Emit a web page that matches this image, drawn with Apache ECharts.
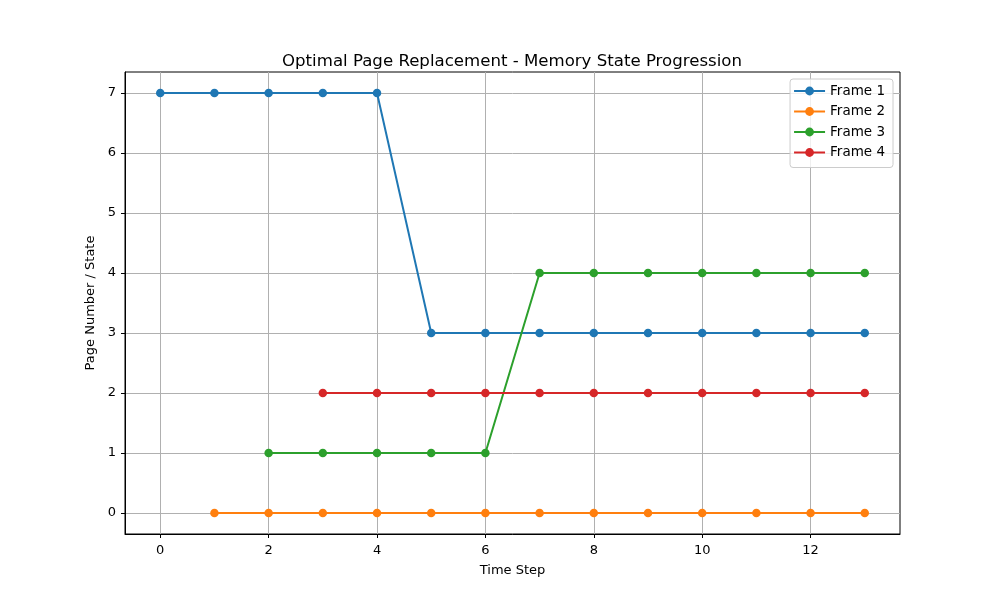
<!DOCTYPE html>
<html>
<head>
<meta charset="utf-8">
<script src="https://cdn.jsdelivr.net/npm/echarts@6/dist/echarts.min.js"></script>
<style>
html,body{margin:0;padding:0;background:#fff;}
#main{width:1000px;height:600px;}
</style>
</head>
<body>
<div id="main"></div>
<script>
// time steps and page held in each frame (null = frame still empty)
var timeSteps = [0,1,2,3,4,5,6,7,8,9,10,11,12,13];
var frame1 = [7,7,7,7,7,3,3,3,3,3,3,3,3,3];
var frame2 = [null,0,0,0,0,0,0,0,0,0,0,0,0,0];
var frame3 = [null,null,1,1,1,1,1,4,4,4,4,4,4,4];
var frame4 = [null,null,null,2,2,2,2,2,2,2,2,2,2,2];
var frameNames = ['Frame 1','Frame 2','Frame 3','Frame 4'];
var frameColors = ['#1f77b4','#ff7f0e','#2ca02c','#d62728'];
var xTicks = [0,2,4,6,8,10,12];
var yTicks = [0,1,2,3,4,5,6,7];

var font = 'DejaVu Sans';

function pairs(vals) {
    var out = [];
    for (var i = 0; i < timeSteps.length; i++) {
        if (vals[i] !== null) out.push([timeSteps[i], vals[i]]);
    }
    return out;
}

var frames = [frame1, frame2, frame3, frame4];
var series = [];
for (var k = 0; k < frames.length; k++) {
    series.push({
        name: frameNames[k],
        type: 'line',
        data: pairs(frames[k]),
        symbol: 'circle',
        symbolSize: 8.5,
        color: frameColors[k],
        lineStyle: {width: 2},
        itemStyle: {borderWidth: 0},
        emphasis: {disabled: true},
        animation: false,
        z: 2 + k
    });
}

var myChart = echarts.init(document.getElementById('main'), null, {renderer: 'canvas'});
var option = {
    backgroundColor: '#fff',
    animation: false,
    title: {
        text: 'Optimal Page Replacement - Memory State Progression',
        left: 507,
        textAlign: 'center',
        top: 48,
        textStyle: {fontFamily: font, fontSize: 16.6, fontWeight: 'normal', color: '#000'}
    },
    legend: {
        orient: 'vertical',
        right: 107,
        top: 79,
        padding: [5, 8, 8, 3],
        itemGap: 6.5,
        itemWidth: 31,
        itemHeight: 11,
        backgroundColor: 'rgba(255,255,255,0.8)',
        borderColor: '#cccccc',
        borderWidth: 1,
        borderRadius: 3,
        textStyle: {fontFamily: font, fontSize: 13.5, color: '#000', height: 14, lineHeight: 14},
        data: frameNames
    },
    grid: {left: 125, right: 100, top: 72, bottom: 66, containLabel: false,
        show: true, borderColor: '#000', borderWidth: 1},
    xAxis: {
        type: 'value',
        min: -0.65,
        max: 13.65,
        name: 'Time Step',
        nameLocation: 'middle',
        nameGap: 30,
        nameTextStyle: {fontFamily: font, fontSize: 13, color: '#000'},
        axisLine: {show: true, onZero: false, lineStyle: {color: '#000'}},
        axisTick: {show: true, length: 4, customValues: xTicks, lineStyle: {color: '#000'}},
        axisLabel: {customValues: xTicks, fontFamily: font, fontSize: 13, color: '#000', margin: 10},
        splitLine: {show: true, lineStyle: {color: '#b0b0b0', width: 1}}
    },
    yAxis: {
        type: 'value',
        min: -0.35,
        max: 7.35,
        name: 'Page Number / State',
        nameLocation: 'middle',
        nameGap: 26,
        nameTextStyle: {fontFamily: font, fontSize: 13, color: '#000'},
        axisLine: {show: true, onZero: false, lineStyle: {color: '#000'}},
        axisTick: {show: true, length: 4, customValues: yTicks, lineStyle: {color: '#000'}},
        axisLabel: {customValues: yTicks, fontFamily: font, fontSize: 13, color: '#000', margin: 9},
        splitLine: {show: true, lineStyle: {color: '#b0b0b0', width: 1}}
    },
    series: series
};
myChart.setOption(option, true);
</script>
</body>
</html>
